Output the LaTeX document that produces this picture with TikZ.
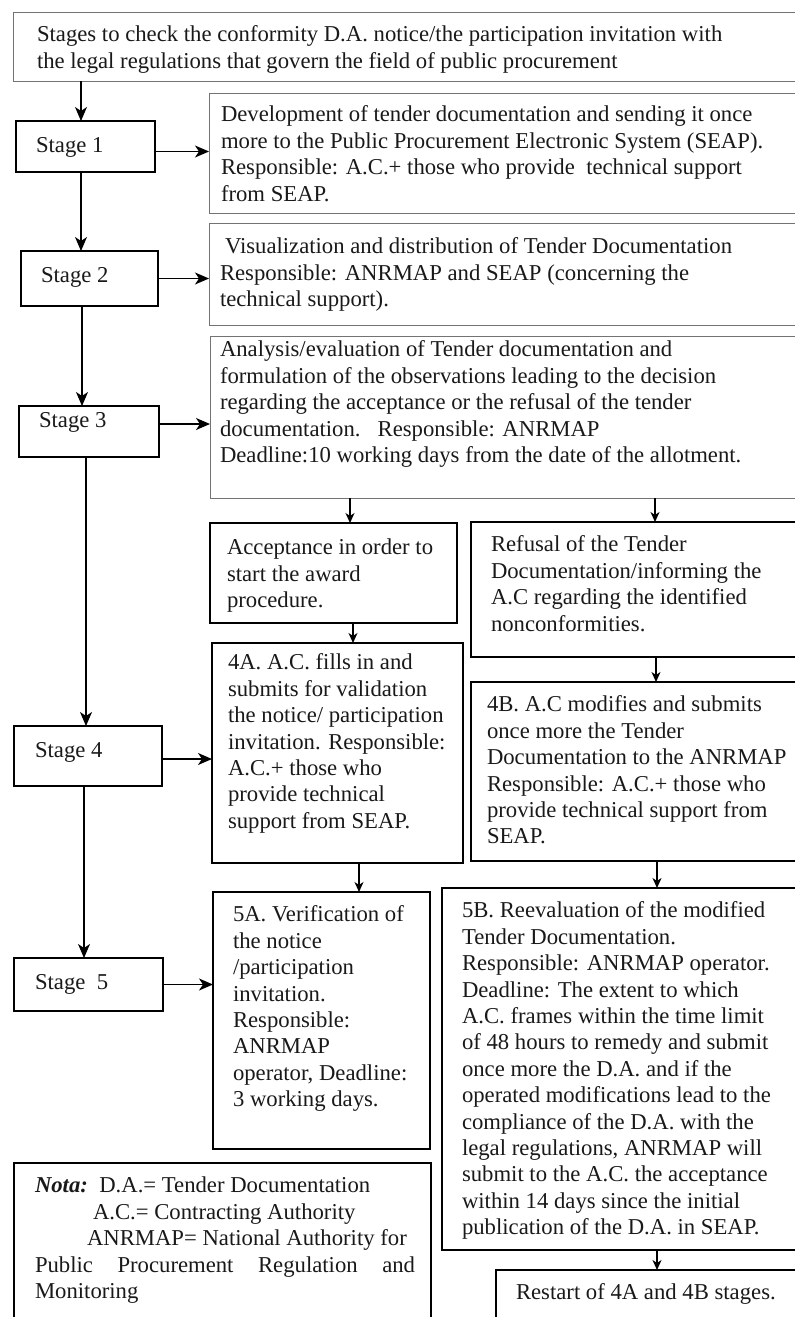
\documentclass[tikz,border=0pt]{standalone}
\usepackage{fontspec}
\setmainfont{Liberation Serif}
\usetikzlibrary{arrows.meta,fit}
\begin{document}
\begin{tikzpicture}[x=1pt,y=-1pt,
 box/.style={draw=black, line width=1.3pt, inner sep=0pt, outer sep=0pt},
 gbox/.style={draw=black!55, line width=1pt, inner sep=0pt, outer sep=0pt},
 txt/.style={anchor=north west, inner sep=0pt, outer sep=0pt, align=left, yshift=18.5pt, font=\fontsize{22.7}{26.4}\selectfont, text=black!90},
 arr/.style={line width=1.3pt, -{Stealth[length=14pt,width=12pt,inset=4pt]}},
 arrs/.style={line width=1.3pt, -{Stealth[length=10pt,width=9pt,inset=3pt]}},
]
\useasboundingbox (0,0) rectangle (795,1317);
\clip (0,0) rectangle (795,1317);
% boxes
\node[gbox, fit={(13,12) (800,81)}] (top) {};
\node[gbox, fit={(209,93) (800,213)}] (b1) {};
\node[gbox, fit={(209,223) (800,325)}] (b2) {};
\node[gbox, fit={(210,336) (800,498)}] (b3) {};
\node[box, fit={(210,523) (457,623)}] (acc) {};
\node[box, fit={(471,522) (800,657)}] (ref) {};
\node[box, fit={(212,643) (463,863)}] (fa) {};
\node[box, fit={(471,682) (800,861)}] (fb) {};
\node[box, fit={(213,892) (430,1149)}] (va) {};
\node[box, fit={(442,888) (800,1250)}] (vb) {};
\node[box, fit={(496,1270) (800,1340)}] (rs) {};
\node[box, fit={(14,1163) (431,1340)}] (nota) {};
\node[box, fit={(16,121) (155,172)}] (s1) {};
\node[box, fit={(21,251) (158,306)}] (s2) {};
\node[box, fit={(19,406) (159,457)}] (s3) {};
\node[box, fit={(14,726) (162,786)}] (s4) {};
\node[box, fit={(14,958) (163,1011)}] (s5) {};
% texts
\node[txt] (t0) at (37,42) {\strut Stages to check the conformity D.A. notice/the participation invitation with\\the legal regulations that govern the field of public procurement};
\node[txt] (t1) at (221,122) {\strut Development of tender documentation and sending it once\\more to the Public Procurement Electronic System (SEAP).\\Responsible: A.C.+ those who provide\ \ technical support\\from SEAP.};
\node[txt] (t2) at (220,254) {\strut\hspace*{5pt}Visualization and distribution of Tender Documentation\\Responsible: ANRMAP and SEAP (concerning the\\technical support).};
\node[txt] (t3) at (220,357) {\strut Analysis/evaluation of Tender documentation and\\formulation of the observations leading to the decision\\regarding the acceptance or the refusal of the tender\\documentation.\ \ \ Responsible: ANRMAP\\Deadline:10 working days from the date of the allotment.};
\node[txt] (t4) at (227,555) {\strut Acceptance in order to\\start the award\\procedure.};
\node[txt] (t5) at (491,552) {\strut Refusal of the Tender\\Documentation/informing the\\A.C regarding the identified\\nonconformities.};
\node[txt] (t6) at (228,670) {\strut 4A. A.C. fills in and\\submits for validation\\the notice/ participation\\invitation. Responsible:\\A.C.+ those who\\provide technical\\support from SEAP.};
\node[txt] (t7) at (487,712) {\strut 4B. A.C modifies and submits\\once more the Tender\\Documentation to the ANRMAP\\Responsible: A.C.+ those who\\provide technical support from\\SEAP.};
\node[txt] (t8) at (233,922) {\strut 5A. Verification of\\the notice\\/participation\\invitation.\\Responsible:\\ANRMAP\\operator, Deadline:\\3 working days.};
\node[txt] (t9) at (462,918) {\strut 5B. Reevaluation of the modified\\Tender Documentation.\\Responsible: ANRMAP operator.\\Deadline: The extent to which\\A.C. frames within the time limit\\of 48 hours to remedy and submit\\once more the D.A. and if the\\operated modifications lead to the\\compliance of the D.A. with the\\legal regulations, ANRMAP will\\submit to the A.C. the acceptance\\within 14 days since the initial\\publication of the D.A. in SEAP.};
\node[txt] (t10) at (516,1300) {\strut Restart of 4A and 4B stages.};
\node[txt] (t11) at (35,1193) {\strut\textbf{\textit{Nota:}}\ \ D.A.= Tender Documentation\\\hspace*{58pt}A.C.= Contracting Authority\\\hspace*{52pt}ANRMAP= National Authority for\\\makebox[380pt][s]{Public Procurement Regulation and}\\Monitoring};
\node[txt] (l1) at (36,153) {\strut Stage 1};
\node[txt] (l2) at (41,283) {\strut Stage 2};
\node[txt] (l3) at (39,428) {\strut Stage 3};
\node[txt] (l4) at (35,758) {\strut Stage 4};
\node[txt] (l5) at (35,990) {\strut Stage\ \ 5};
% connectors
\draw[arr] ([xshift=-4.5pt]s1.north |- top.south) -- ([xshift=-4.5pt]s1.north);
\draw[arr] ([xshift=-4.5pt]s1.south) -- ([xshift=-4.5pt]s1.south |- s2.north);
\draw[arr] ([xshift=-7.5pt]s2.south) -- ([xshift=-7.5pt]s2.south |- s3.north);
\draw[arr] ([xshift=-3pt]s3.south) -- ([xshift=-3pt]s3.south |- s4.north);
\draw[arr] ([xshift=-4pt]s4.south) -- ([xshift=-4pt]s4.south |- s5.north);
\draw[arr] ([yshift=-5pt]s1.east) -- ([yshift=-5pt]s1.east -| b1.west);
\draw[arr] (s2.east) -- (s2.east -| b2.west);
\draw[arr] ([yshift=7.5pt]s3.east) -- ([yshift=7.5pt]s3.east -| b3.west);
\draw[arr] ([yshift=-3pt]s4.east) -- ([yshift=-3pt]s4.east -| fa.west);
\draw[arr] (s5.east) -- (s5.east -| va.west);
\draw[arrs] ([xshift=16.5pt]acc.north |- b3.south) -- ([xshift=16.5pt]acc.north);
\draw[arrs] ([xshift=19.5pt]ref.north |- b3.south) -- ([xshift=19.5pt]ref.north);
\draw[arrs] ([xshift=19.5pt]acc.south) -- ([xshift=19.5pt]acc.south |- fa.north);
\draw[arrs] ([xshift=20.5pt]ref.south) -- ([xshift=20.5pt]ref.south |- fb.north);
\draw[arrs] ([xshift=37.5pt]va.north |- fa.south) -- ([xshift=37.5pt]va.north);
\draw[arrs] ([xshift=36pt]vb.north |- fb.south) -- ([xshift=36pt]vb.north);
\draw[arrs] ([xshift=9pt]rs.north |- vb.south) -- ([xshift=9pt]rs.north);
\end{tikzpicture}
\end{document}
